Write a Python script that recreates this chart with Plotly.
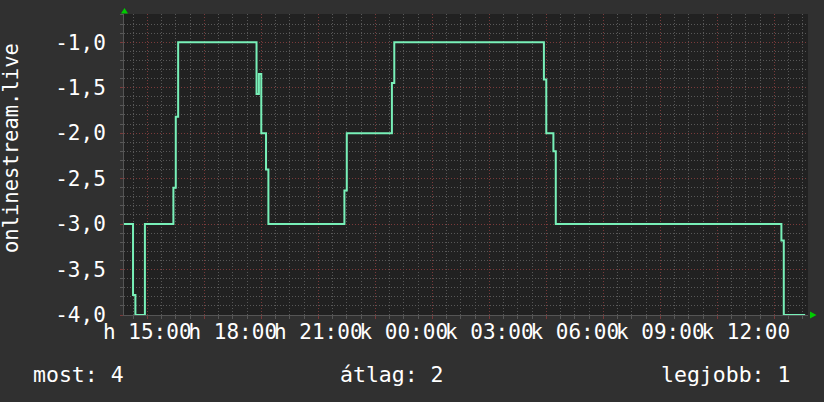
import plotly.graph_objects as go

# ---- data ----
times = [
    "2024-01-15 14:10", "2024-01-15 14:30", "2024-01-15 14:35", "2024-01-15 14:55",
    "2024-01-15 15:55", "2024-01-15 16:00", "2024-01-15 16:05", "2024-01-15 18:50",
    "2024-01-15 18:55", "2024-01-15 19:00", "2024-01-15 19:10", "2024-01-15 19:15",
    "2024-01-15 21:55", "2024-01-15 22:00", "2024-01-15 23:35", "2024-01-15 23:40",
    "2024-01-16 04:55", "2024-01-16 05:00", "2024-01-16 05:15", "2024-01-16 05:20",
    "2024-01-16 13:15", "2024-01-16 13:20", "2024-01-16 14:05",
]
values = [
    -3.0, -3.78, -4.0, -3.0,
    -2.6, -1.82, -1.0, -1.57,
    -1.35, -2.0, -2.4, -3.0,
    -2.63, -2.0, -1.45, -1.0,
    -1.41, -2.0, -2.2, -3.0,
    -3.18, -4.0, -4.0,
]
x_label_times = [
    "2024-01-15 15:00", "2024-01-15 18:00", "2024-01-15 21:00", "2024-01-16 00:00",
    "2024-01-16 03:00", "2024-01-16 06:00", "2024-01-16 09:00", "2024-01-16 12:00",
]
x_label_text = ["h 15:00", "h 18:00", "h 21:00", "k 00:00", "k 03:00", "k 06:00", "k 09:00", "k 12:00"]
y_tick_vals = [-4.0, -3.5, -3.0, -2.5, -2.0, -1.5, -1.0]
y_tick_text = ["-4,0", "-3,5", "-3,0", "-2,5", "-2,0", "-1,5", "-1,0"]
series_name = "onlinestream.live"
footer = ["most: 4", "átlag: 2", "legjobb: 1"]

x_range = ["2024-01-15 14:11", "2024-01-16 14:11"]
y_range = [-4.0, -0.69]

# ---- styling ----
FONT = "DejaVu Sans Mono"
PAPER = "#303030"
PLOT = "#212121"
MINOR = "#585858"
MAJOR = "#7a3a3a"
LINE = "#78f0b8"
W, H = 824, 402
L, R, T, B = 124, 16, 14, 87
PW, PH = W - L - R, H - T - B

def px(x):
    return (x - L) / PW

def py(y):
    return (H - B - y) / PH

fig = go.Figure()
fig.add_trace(go.Scatter(
    x=times, y=values, mode="lines", line=dict(color=LINE, width=2, shape="hv"),
    xaxis="x", yaxis="y", hoverinfo="skip", showlegend=False,
))
# invisible trace to carry the label axis
fig.add_trace(go.Scatter(
    x=x_range, y=y_range, mode="lines", line=dict(width=0), opacity=0,
    xaxis="x2", yaxis="y", hoverinfo="skip", showlegend=False,
))

dot = "1px,2px"
fig.update_layout(
    template="none",
    width=W, height=H,
    margin=dict(l=L, r=R, t=T, b=B, pad=0, autoexpand=False),
    paper_bgcolor=PAPER, plot_bgcolor=PLOT,
    font=dict(family=FONT, color="#ffffff", size=21),
    xaxis=dict(
        type="date", range=x_range, automargin=False,
        tickmode="linear", tick0="2024-01-15 15:00", dtick=7200000,
        showticklabels=False, ticks="outside", ticklen=3, tickcolor=MAJOR,
        showgrid=True, gridcolor=MAJOR, griddash=dot, gridwidth=1,
        minor=dict(tickmode="linear", tick0="2024-01-15 15:00", dtick=1800000,
                   showgrid=True, gridcolor=MINOR, griddash=dot, gridwidth=1,
                   ticks="outside", ticklen=3, tickcolor=MINOR),
        showline=True, linecolor="#555555", linewidth=1,
        zeroline=False, fixedrange=True,
    ),
    xaxis2=dict(
        type="date", range=x_range, overlaying="x", side="bottom", anchor="y",
        automargin=False,
        tickmode="array", tickvals=x_label_times, ticktext=x_label_text,
        tickangle=0, ticks="", showgrid=False, showline=False, zeroline=False,
        tickfont=dict(family=FONT, size=21, color="#ffffff"),
        ticklabelstandoff=2,
    ),
    yaxis=dict(
        range=y_range, automargin=False,
        tickmode="array", tickvals=y_tick_vals, ticktext=y_tick_text,
        ticks="outside", ticklen=3, tickcolor=MAJOR,
        showgrid=True, gridcolor=MAJOR, griddash=dot, gridwidth=1,
        minor=dict(tickmode="linear", tick0=-4.0, dtick=0.1,
                   showgrid=True, gridcolor=MINOR, griddash=dot, gridwidth=1,
                   ticks="outside", ticklen=3, tickcolor=MINOR),
        showline=True, linecolor="#555555", linewidth=1,
        zeroline=False, fixedrange=True,
        tickfont=dict(family=FONT, size=21, color="#ffffff"),
        ticklabelstandoff=10,
    ),
)

# y-axis title
fig.add_annotation(
    text=series_name, textangle=-90, showarrow=False,
    xref="paper", yref="paper", x=px(11), y=py(148),
    xanchor="center", yanchor="middle",
    font=dict(family=FONT, size=20.5, color="#ffffff"),
)

# footer (legend / GPRINT lines)
fig.add_annotation(text=footer[0], showarrow=False, xref="paper", yref="paper",
                   x=px(31), y=py(374), xanchor="left", yanchor="middle",
                   font=dict(family=FONT, size=21.5, color="#ffffff"))
fig.add_annotation(text=footer[1], showarrow=False, xref="paper", yref="paper",
                   x=px(392), y=py(374), xanchor="center", yanchor="middle",
                   font=dict(family=FONT, size=21.5, color="#ffffff"))
fig.add_annotation(text=footer[2], showarrow=False, xref="paper", yref="paper",
                   x=px(792), y=py(374), xanchor="right", yanchor="middle",
                   font=dict(family=FONT, size=21.5, color="#ffffff"))

# green axis arrows
arrow_green = "#00cc00"
up = "M {} {} L {} {} L {} {} Z".format(px(121), py(13.5), px(128), py(13.5), px(124.5), py(8))
right = "M {} {} L {} {} L {} {} Z".format(px(810), py(311.5), px(810), py(318.5), px(816.5), py(315))
for p in (up, right):
    fig.add_shape(type="path", path=p, xref="paper", yref="paper",
                  fillcolor=arrow_green, line=dict(color=arrow_green, width=0), layer="above")

fig.write_html(
    "out.html",
    config={"displayModeBar": False, "staticPlot": True},
    post_script="document.body.style.margin='0';document.body.style.overflow='hidden';",
)
